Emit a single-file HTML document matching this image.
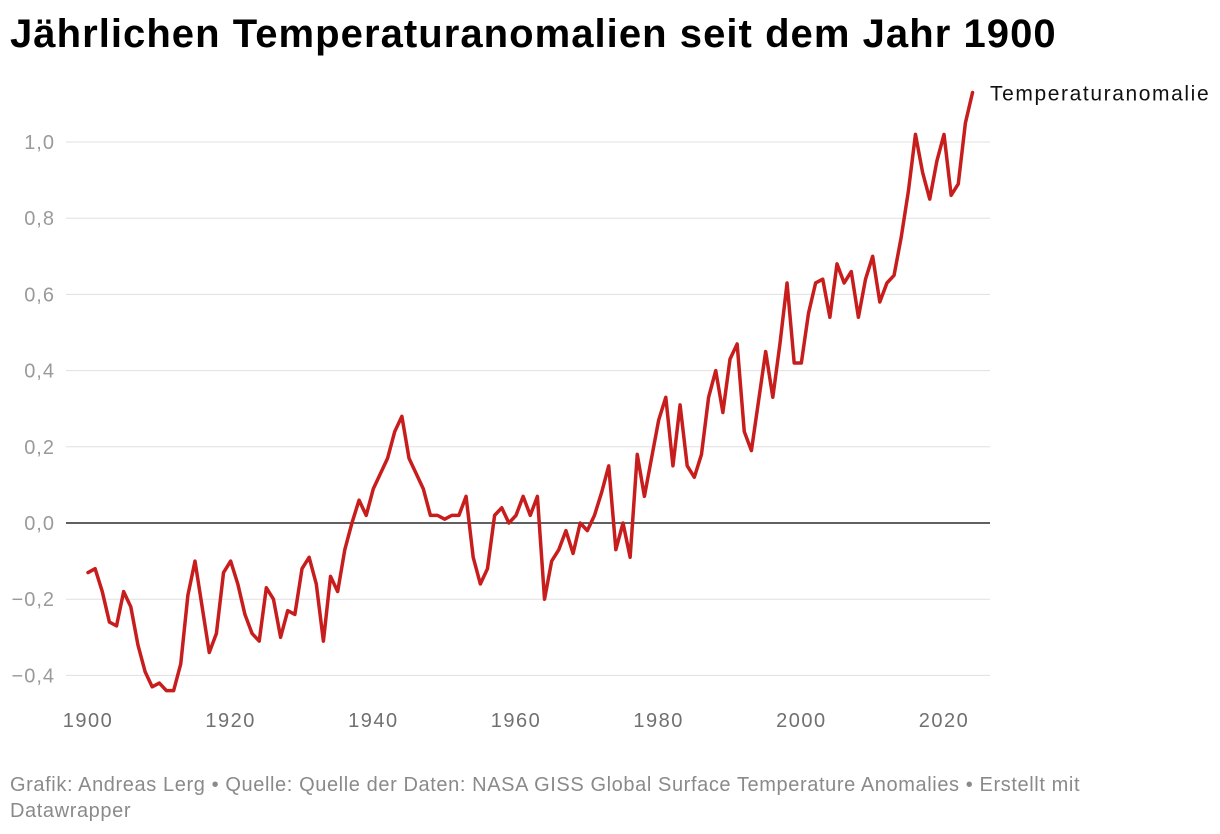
<!DOCTYPE html>
<html><head><meta charset="utf-8"><style>
body{margin:0;background:#fff;font-family:"Liberation Sans",sans-serif;}
#wrap{position:relative;width:1220px;height:834px;overflow:hidden}
h1{position:absolute;left:10px;top:12px;margin:0;font-size:40px;font-weight:bold;color:#000;letter-spacing:1.05px}
#foot{position:absolute;left:10px;top:772px;width:1110px;font-size:20px;line-height:26px;color:#8a8a8a;letter-spacing:0.6px}
</style></head><body>
<div id="wrap">
<h1>Jährlichen Temperaturanomalien seit dem Jahr 1900</h1>
<svg id="chart" width="1220" height="834" style="position:absolute;left:0;top:0"></svg>
<div id="foot">Grafik: Andreas Lerg • Quelle: Quelle der Daten: NASA GISS Global Surface Temperature Anomalies • Erstellt mit Datawrapper</div>
</div>
<script>
const years=[];for(let y=1900;y<=2024;y++)years.push(y);
const anomalies=[-0.13,-0.12,-0.18,-0.26,-0.27,-0.18,-0.22,-0.32,-0.39,-0.43,-0.42,-0.44,-0.44,-0.37,-0.19,-0.10,-0.22,-0.34,-0.29,-0.13,
-0.10,-0.16,-0.24,-0.29,-0.31,-0.17,-0.20,-0.30,-0.23,-0.24,-0.12,-0.09,-0.16,-0.31,-0.14,-0.18,-0.07,0.00,0.06,0.02,
0.09,0.13,0.17,0.24,0.28,0.17,0.13,0.09,0.02,0.02,0.01,0.02,0.02,0.07,-0.09,-0.16,-0.12,0.02,0.04,0.00,
0.02,0.07,0.02,0.07,-0.20,-0.10,-0.07,-0.02,-0.08,0.00,-0.02,0.02,0.08,0.15,-0.07,0.00,-0.09,0.18,0.07,0.17,
0.27,0.33,0.15,0.31,0.15,0.12,0.18,0.33,0.40,0.29,0.43,0.47,0.24,0.19,0.32,0.45,0.33,0.47,0.63,0.42,
0.42,0.55,0.63,0.64,0.54,0.68,0.63,0.66,0.54,0.64,0.70,0.58,0.63,0.65,0.75,0.87,1.02,0.92,0.85,0.95,
1.02,0.86,0.89,1.05,1.13];
const yTicks=[-0.4,-0.2,0,0.2,0.4,0.6,0.8,1.0];
const yTickLabels=["−0,4","−0,2","0,0","0,2","0,4","0,6","0,8","1,0"];
const xTicks=[1900,1920,1940,1960,1980,2000,2020];
const seriesName="Temperaturanomalie";
const NS="http://www.w3.org/2000/svg",svg=document.getElementById('chart');
const X=y=>88+(y-1900)*(856/120);
const Y=v=>523-v*381;
function mk(t,a,p){const e=document.createElementNS(NS,t);for(const k in a)e.setAttribute(k,a[k]);(p||svg).appendChild(e);return e;}
yTicks.forEach((v,i)=>{
  const g=mk('line',{x1:66,x2:990,y1:Y(v),y2:Y(v),stroke:v===0?'#000':'#e0e0e0','stroke-width':v===0?1.3:1});
  
  
  const t=mk('text',{x:55,y:Y(v)+7,'text-anchor':'end','font-size':20,'letter-spacing':1,fill:'#9a9a9a','font-family':'Liberation Sans, sans-serif'});
  t.textContent=yTickLabels[i];
  
  
});
xTicks.forEach(y=>{
  const t=mk('text',{x:X(y),y:727,'text-anchor':'middle','font-size':20,'letter-spacing':1.5,fill:'#707070','font-family':'Liberation Sans, sans-serif'});
  t.textContent=y;
  
  
});
const line=mk('polyline',{points:years.map((y,i)=>X(y)+','+Y(anomalies[i])).join(' '),fill:'none',stroke:'#c71e1d','stroke-width':3.5,'stroke-linejoin':'round','stroke-linecap':'round'});


const last=anomalies.length-1;
const lab=mk('text',{x:990,y:Y(anomalies[last])+8,'font-size':21,'letter-spacing':1.6,fill:'#111','font-family':'Liberation Sans, sans-serif'});
lab.textContent=seriesName;


</script>
</body></html>
